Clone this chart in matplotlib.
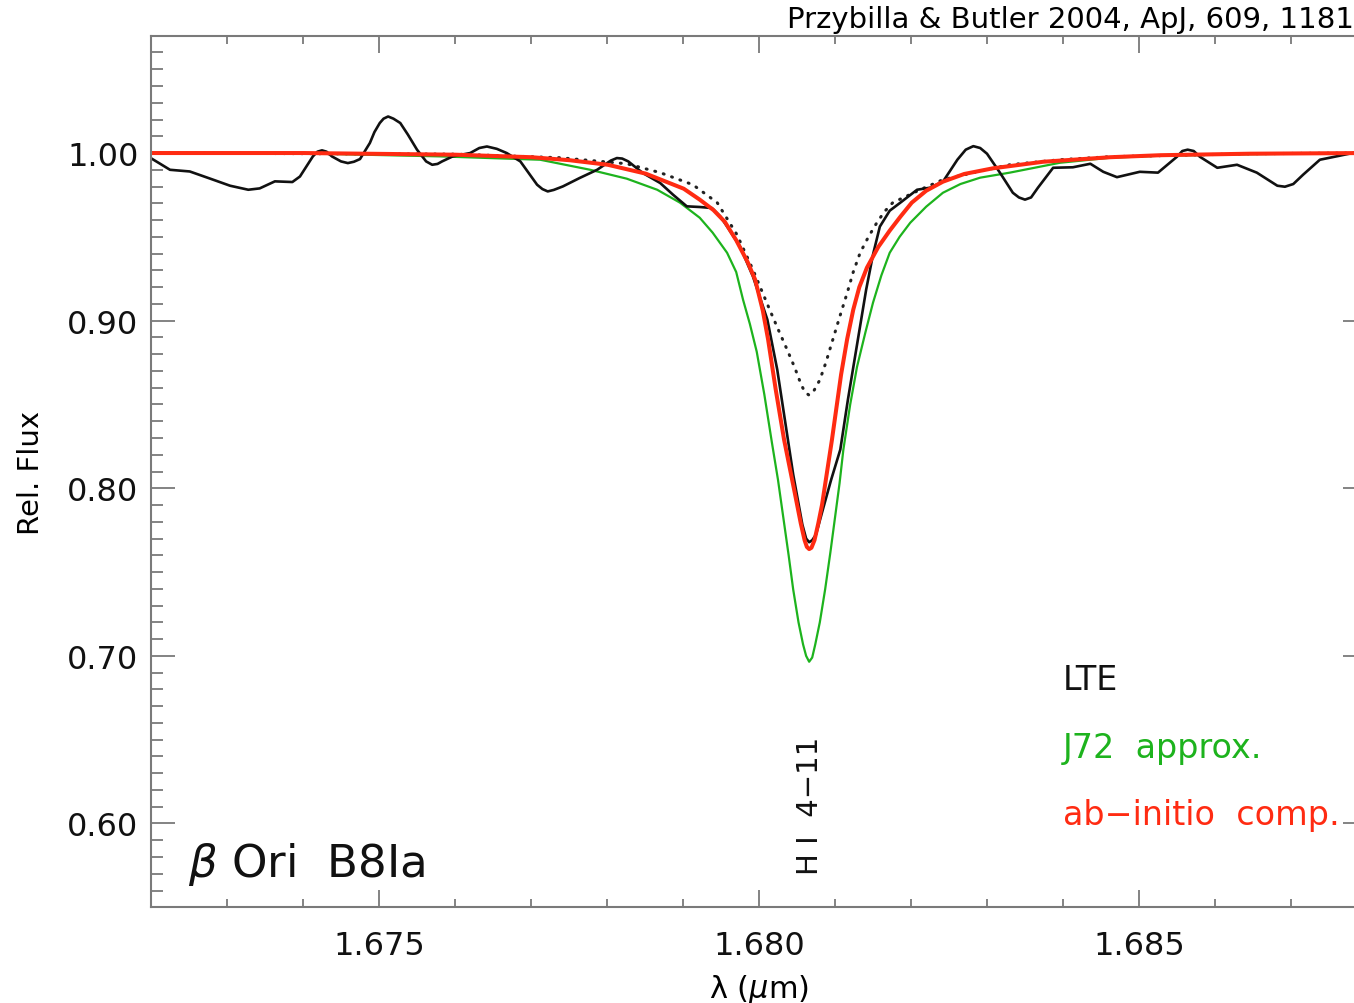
import matplotlib
matplotlib.use("Agg")
import matplotlib.pyplot as plt
from matplotlib.ticker import MultipleLocator, FixedLocator

# observed spectrum of beta Ori (black)
obs_wave = [1.67200, 1.67212, 1.67225, 1.67251, 1.67278, 1.67304, 1.67328, 1.67343,
            1.67363, 1.67386, 1.67396, 1.67413, 1.67419, 1.67425, 1.67431, 1.67438,
            1.67450, 1.67459, 1.67467, 1.67475, 1.67488, 1.67494, 1.67501, 1.67506,
            1.67512, 1.67519, 1.67528, 1.67538, 1.67550, 1.67562, 1.67570, 1.67577,
            1.67583, 1.67597, 1.67620, 1.67632, 1.67642, 1.67655, 1.67668, 1.67686,
            1.67708, 1.67715, 1.67722, 1.67730, 1.67742, 1.67764, 1.67787, 1.67805,
            1.67813, 1.67820, 1.67828, 1.67847, 1.67870, 1.67887, 1.67905, 1.67922,
            1.67938, 1.67949, 1.67958, 1.67975, 1.67992, 1.68011, 1.68024, 1.68034,
            1.68045, 1.68057, 1.68062, 1.68066, 1.68070, 1.68075, 1.68084, 1.68095,
            1.68107, 1.68117, 1.68129, 1.68141, 1.68150, 1.68159, 1.68172, 1.68186,
            1.68208, 1.68225, 1.68242, 1.68261, 1.68272, 1.68282, 1.68291, 1.68300,
            1.68317, 1.68334, 1.68342, 1.68350, 1.68358, 1.68367, 1.68387, 1.68413,
            1.68436, 1.68453, 1.68471, 1.68501, 1.68525, 1.68550, 1.68557, 1.68564,
            1.68572, 1.68580, 1.68603, 1.68629, 1.68655, 1.68682, 1.68692, 1.68703,
            1.68716, 1.68738, 1.68764, 1.68783, 1.68800]
obs_flux = [0.9969, 0.9936, 0.9900, 0.9890, 0.9847, 0.9805, 0.9781, 0.9789,
            0.9831, 0.9827, 0.9860, 0.9980, 1.0008, 1.0016, 1.0008, 0.9980,
            0.9950, 0.9940, 0.9948, 0.9964, 1.0060, 1.0125, 1.0179, 1.0205,
            1.0218, 1.0205, 1.0179, 1.0110, 1.0020, 0.9950, 0.9930, 0.9935,
            0.9950, 0.9980, 1.0000, 1.0030, 1.0039, 1.0025, 1.0000, 0.9950,
            0.9811, 0.9785, 0.9771, 0.9780, 0.9801, 0.9851, 0.9900, 0.9955,
            0.9970, 0.9967, 0.9950, 0.9881, 0.9821, 0.9751, 0.9682, 0.9678,
            0.9672, 0.9622, 0.9562, 0.9443, 0.9264, 0.9006, 0.8708, 0.8410,
            0.8082, 0.7784, 0.7700, 0.7678, 0.7690, 0.7724, 0.7873, 0.8052,
            0.8231, 0.8529, 0.8857, 0.9185, 0.9394, 0.9561, 0.9656, 0.9704,
            0.9781, 0.9793, 0.9829, 0.9960, 1.0020, 1.0041, 1.0030, 0.9996,
            0.9883, 0.9763, 0.9735, 0.9722, 0.9735, 0.9793, 0.9912, 0.9915,
            0.9936, 0.9888, 0.9856, 0.9888, 0.9883, 0.9978, 1.0012, 1.0020,
            1.0012, 0.9978, 0.9912, 0.9930, 0.9883, 0.9805, 0.9799, 0.9815,
            0.9871, 0.9960, 0.9984, 1.0002, 1.0010]

# LTE model (dotted)
lte_wave = [1.67200, 1.67601, 1.67738, 1.67826, 1.67870, 1.67913, 1.67945, 1.67971,
            1.67992, 1.68014, 1.68025, 1.68037, 1.68047, 1.68054, 1.68060, 1.68066,
            1.68072, 1.68080, 1.68088, 1.68097, 1.68106, 1.68116, 1.68124, 1.68133,
            1.68144, 1.68155, 1.68165, 1.68176, 1.68212, 1.68242, 1.68287, 1.68330,
            1.68396, 1.68462, 1.68646, 1.68800]
lte_flux = [1.0000, 0.9993, 0.9972, 0.9936, 0.9883, 0.9811, 0.9704, 0.9513,
            0.9304, 0.9066, 0.8950, 0.8827, 0.8720, 0.8636, 0.8575, 0.8555,
            0.8580, 0.8646, 0.8750, 0.8885, 0.9020, 0.9165, 0.9290, 0.9404,
            0.9500, 0.9584, 0.9650, 0.9704, 0.9781, 0.9841, 0.9888, 0.9930,
            0.9960, 0.9978, 0.9996, 1.0000]

# NLTE with Johnson (1972) approximation (green)
j72_wave = [1.67200, 1.67401, 1.67580, 1.67712, 1.67778, 1.67826, 1.67866, 1.67896,
            1.67922, 1.67939, 1.67958, 1.67970, 1.67979, 1.67988, 1.67997, 1.68007,
            1.68017, 1.68025, 1.68032, 1.68039, 1.68045, 1.68052, 1.68058, 1.68062,
            1.68066, 1.68070, 1.68074, 1.68080, 1.68087, 1.68094, 1.68100, 1.68106,
            1.68111, 1.68120, 1.68129, 1.68140, 1.68150, 1.68161, 1.68172, 1.68185,
            1.68199, 1.68220, 1.68242, 1.68265, 1.68291, 1.68330, 1.68396, 1.68462,
            1.68528, 1.68646, 1.68800]
j72_flux = [1.0000, 0.9998, 0.9980, 0.9960, 0.9900, 0.9847, 0.9781, 0.9704,
            0.9614, 0.9525, 0.9405, 0.9290, 0.9125, 0.8980, 0.8815, 0.8560,
            0.8272, 0.8050, 0.7825, 0.7600, 0.7396, 0.7200, 0.7068, 0.7000,
            0.6965, 0.6990, 0.7068, 0.7200, 0.7396, 0.7620, 0.7825, 0.8030,
            0.8230, 0.8500, 0.8725, 0.8930, 0.9107, 0.9270, 0.9405, 0.9500,
            0.9584, 0.9680, 0.9763, 0.9815, 0.9853, 0.9883, 0.9942, 0.9972,
            0.9984, 0.9993, 1.0000]

# NLTE with ab-initio collision data (red)
abi_wave = [1.67200, 1.67401, 1.67601, 1.67701, 1.67751, 1.67801, 1.67851, 1.67901,
            1.67922, 1.67940, 1.67955, 1.67970, 1.67985, 1.67995, 1.68005, 1.68012,
            1.68022, 1.68033, 1.68047, 1.68055, 1.68060, 1.68063, 1.68066, 1.68069,
            1.68073, 1.68078, 1.68083, 1.68096, 1.68108, 1.68116, 1.68124, 1.68132,
            1.68142, 1.68157, 1.68172, 1.68186, 1.68201, 1.68220, 1.68242, 1.68270,
            1.68308, 1.68374, 1.68462, 1.68528, 1.68646, 1.68800]
abi_flux = [1.0000, 1.0000, 0.9990, 0.9975, 0.9957, 0.9930, 0.9877, 0.9787,
            0.9722, 0.9660, 0.9590, 0.9480, 0.9350, 0.9244, 0.9060, 0.8887,
            0.8589, 0.8290, 0.7974, 0.7790, 0.7690, 0.7650, 0.7637, 0.7645,
            0.7690, 0.7790, 0.7903, 0.8290, 0.8678, 0.8890, 0.9065, 0.9200,
            0.9316, 0.9440, 0.9537, 0.9620, 0.9704, 0.9775, 0.9829, 0.9875,
            0.9909, 0.9948, 0.9975, 0.9987, 0.9996, 1.0000]

x_major = [1.675, 1.680, 1.685]
x_labels = ['1.675', '1.680', '1.685']
y_major = [0.60, 0.70, 0.80, 0.90, 1.00]
y_labels = ['0.60', '0.70', '0.80', '0.90', '1.00']

green = '#1db31d'
red = '#ff2b12'
axcol = '#7a7a7a'

fig = plt.figure(figsize=(13.54, 10.04), dpi=100)
ax = fig.add_axes([151 / 1354, 95.7 / 1004, 1216 / 1354, 871.6 / 1004])

ax.plot(lte_wave, lte_flux, color='#222222', lw=2.2, linestyle=(0, (0.3, 2.6)),
        dash_capstyle='round')
ax.plot(j72_wave, j72_flux, color=green, lw=1.6, solid_joinstyle='round')
ax.plot(obs_wave, obs_flux, color='#111111', lw=1.9, solid_joinstyle='round')
ax.plot(abi_wave, abi_flux, color=red, lw=2.9, solid_joinstyle='round')

ax.set_xlim(1.672, 1.688)
ax.set_ylim(0.55, 1.07)

ax.xaxis.set_major_locator(FixedLocator(x_major))
ax.set_xticklabels(x_labels)
ax.xaxis.set_minor_locator(MultipleLocator(0.001))
ax.yaxis.set_major_locator(FixedLocator(y_major))
ax.set_yticklabels(y_labels)
ax.yaxis.set_minor_locator(MultipleLocator(0.01))

for sp in ax.spines.values():
    sp.set_color(axcol)
    sp.set_linewidth(1.5)

ax.tick_params(axis='both', which='both', direction='in', top=True, right=True,
               color=axcol, width=1.3, labelsize=23, labelcolor='#111111')
ax.tick_params(axis='x', which='major', length=12, pad=16)
ax.tick_params(axis='x', which='minor', length=6)
ax.tick_params(axis='y', which='major', length=17, pad=9)
ax.tick_params(axis='y', which='minor', length=8.6)

ax.set_xlabel(r'λ ($\mu$m)', fontsize=22, labelpad=8)
ax.set_ylabel('Rel. Flux', fontsize=21, labelpad=16)

ax.text(1.67249, 0.5685, r'$\beta$ Ori  B8Ia', fontsize=32.5, va='baseline',
        ha='left', color='#111111')
ax.text(1.68067, 0.5697, 'H I  4−11', rotation=90, fontsize=21, ha='center',
        va='bottom', color='#111111')

ax.text(1.68400, 0.6860, 'LTE', fontsize=24, va='center', color='#111111')
ax.text(1.68400, 0.6454, 'J72  approx.', fontsize=24, va='center', color=green)
ax.text(1.68400, 0.6054, 'ab−initio  comp.', fontsize=24, va='center', color=red)

fig.text(1.0, 1 - 20 / 1004, 'Przybilla & Butler 2004, ApJ, 609, 1181',
         ha='right', va='center', fontsize=21)

fig.savefig('out.png', dpi=100)
